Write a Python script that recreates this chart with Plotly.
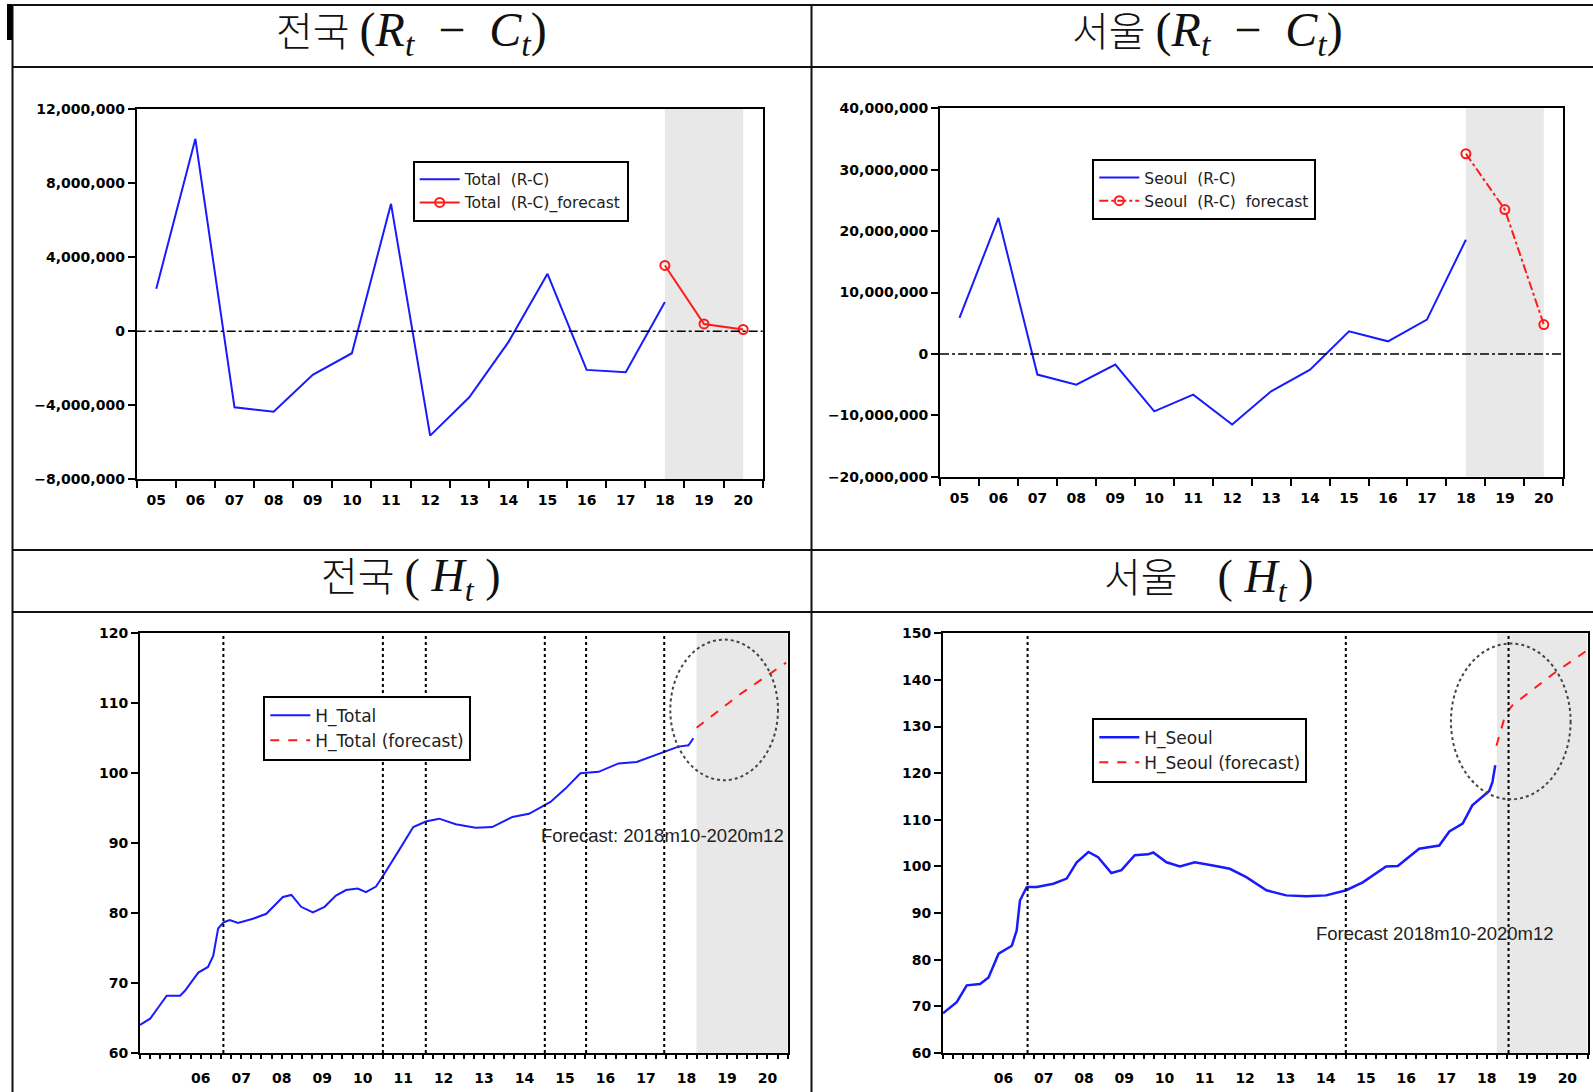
import plotly.graph_objects as go

W, H = 1593, 1092

# ---------------- data ----------------
years = [2005, 2006, 2007, 2008, 2009, 2010, 2011, 2012, 2013, 2014, 2015, 2016, 2017, 2018, 2019, 2020]
year_labels = ["05", "06", "07", "08", "09", "10", "11", "12", "13", "14", "15", "16", "17", "18", "19", "20"]

total_rc_years = [2005, 2006, 2007, 2008, 2009, 2010, 2011, 2012, 2013, 2014, 2015, 2016, 2017, 2018]
total_rc = [2290000, 10390000, -4110000, -4350000, -2360000, -1190000, 6880000, -5640000,
            -3570000, -590000, 3100000, -2090000, -2220000, 1570000]
total_rc_fc_years = [2018, 2019, 2020]
total_rc_fc = [3550000, 390000, 90000]

seoul_rc = [5860000, 22150000, -3370000, -5000000, -1740000, -9350000, -6630000, -11500000,
            -6090000, -2560000, 3680000, 2050000, 5590000, 18600000]
seoul_rc_fc = [32600000, 23500000, 4770000]

# H_Total (monthly index, read points: decimal year, value)
h_total_t = [2005.00, 2005.25, 2005.45, 2005.66, 2005.99, 2006.11, 2006.44, 2006.68, 2006.81, 2006.93,
             2007.07, 2007.22, 2007.42, 2007.79, 2008.12, 2008.53, 2008.74, 2008.98, 2009.27, 2009.56,
             2009.84, 2010.09, 2010.38, 2010.58, 2010.83, 2010.99, 2011.40, 2011.75, 2012.06, 2012.39,
             2012.80, 2013.29, 2013.70, 2014.20, 2014.61, 2015.14, 2015.51, 2015.88, 2016.33, 2016.82,
             2017.27, 2017.81, 2018.30, 2018.55, 2018.67]
h_total_v = [64.0, 64.9, 66.5, 68.2, 68.2, 68.9, 71.5, 72.3, 73.9, 77.8,
             78.7, 79.0, 78.6, 79.2, 79.9, 82.3, 82.6, 80.9, 80.1, 80.9,
             82.5, 83.3, 83.5, 83.0, 83.8, 85.2, 89.0, 92.3, 93.1, 93.5,
             92.7, 92.2, 92.3, 93.75, 94.2, 95.9, 97.8, 100.0, 100.2, 101.4,
             101.6, 102.7, 103.8, 104.0, 105.0]
h_total_fc_t = [2018.75, 2019.80, 2020.96]
h_total_fc_v = [106.5, 111.2, 115.8]

h_seoul_t = [2005.00, 2005.34, 2005.59, 2005.92, 2006.13, 2006.38, 2006.71, 2006.83, 2006.91, 2007.08,
             2007.33, 2007.74, 2008.07, 2008.32, 2008.61, 2008.85, 2009.18, 2009.43, 2009.76, 2010.09,
             2010.22, 2010.55, 2010.88, 2011.25, 2011.70, 2012.12, 2012.53, 2013.03, 2013.52, 2014.02,
             2014.51, 2015.01, 2015.42, 2016.00, 2016.29, 2016.82, 2017.32, 2017.57, 2017.90, 2018.14,
             2018.56, 2018.64, 2018.71]
h_seoul_v = [68.5, 70.9, 74.5, 74.8, 76.2, 81.3, 83.0, 86.3, 92.7, 95.6,
             95.6, 96.3, 97.4, 100.9, 103.1, 102.0, 98.6, 99.2, 102.4, 102.6,
             103.0, 100.9, 100.0, 100.9, 100.2, 99.5, 97.7, 94.9, 93.8, 93.6,
             93.8, 94.9, 96.6, 100.0, 100.1, 103.8, 104.5, 107.5, 109.2, 113.1,
             116.2, 118.1, 121.7]
h_seoul_fc_t = [2018.74, 2018.97, 2019.14, 2020.21, 2020.95]
h_seoul_fc_v = [125.9, 132.8, 134.6, 141.7, 146.1]

events_total = [2007.06, 2011.00, 2012.06, 2015.00, 2016.02, 2017.95]
events_seoul = [2007.10, 2015.00, 2019.04]
forecast_start = 2018.75

# ---------------- helpers ----------------
def px(x):
    return x / W

def py(y):
    return 1 - y / H

BLUE = "#1a1aff"
RED = "#ff1a1a"
TICKFONT = dict(family="DejaVu Sans", size=14, color="black", weight="bold")

fig = go.Figure()

# Top-left
fig.add_trace(go.Scatter(x=total_rc_years, y=total_rc, mode="lines", name="Total  (R-C)",
                         line=dict(color=BLUE, width=2), xaxis="x", yaxis="y", legend="legend"))
fig.add_trace(go.Scatter(x=total_rc_fc_years, y=total_rc_fc, mode="lines+markers",
                         name="Total  (R-C)_forecast",
                         line=dict(color=RED, width=2),
                         marker=dict(symbol="circle-open", size=9, color=RED, line=dict(width=2)),
                         xaxis="x", yaxis="y", legend="legend"))
# Top-right
fig.add_trace(go.Scatter(x=total_rc_years, y=seoul_rc, mode="lines", name="Seoul  (R-C)",
                         line=dict(color=BLUE, width=2), xaxis="x2", yaxis="y2", legend="legend2"))
fig.add_trace(go.Scatter(x=total_rc_fc_years, y=seoul_rc_fc, mode="lines+markers",
                         name="Seoul  (R-C)  forecast",
                         line=dict(color=RED, width=2, dash="dashdot"),
                         marker=dict(symbol="circle-open", size=9, color=RED, line=dict(width=2)),
                         xaxis="x2", yaxis="y2", legend="legend2"))
# Bottom-left
fig.add_trace(go.Scatter(x=h_total_t, y=h_total_v, mode="lines", name="H_Total",
                         line=dict(color=BLUE, width=2), xaxis="x3", yaxis="y3", legend="legend3"))
fig.add_trace(go.Scatter(x=h_total_fc_t, y=h_total_fc_v, mode="lines", name="H_Total (forecast)",
                         line=dict(color=RED, width=2, dash="dash"), xaxis="x3", yaxis="y3",
                         legend="legend3"))
# Bottom-right
fig.add_trace(go.Scatter(x=h_seoul_t, y=h_seoul_v, mode="lines", name="H_Seoul",
                         line=dict(color=BLUE, width=2.5), xaxis="x4", yaxis="y4", legend="legend4"))
fig.add_trace(go.Scatter(x=h_seoul_fc_t, y=h_seoul_fc_v, mode="lines", name="H_Seoul (forecast)",
                         line=dict(color=RED, width=2, dash="dash"), xaxis="x4", yaxis="y4",
                         legend="legend4"))

frame = dict(showline=True, linecolor="black", linewidth=2, mirror=True, showgrid=False,
             zeroline=False, tickfont=TICKFONT, fixedrange=True)

def top_xaxis(x0, x1, anchor):
    return dict(domain=[px(x0), px(x1)], anchor=anchor, range=[years[0] - 0.5, years[-1] + 0.5],
                tickmode="array", tickvals=years, ticktext=year_labels, ticks="",
                ticklabelstandoff=7,
                minor=dict(tickmode="array", tickvals=[y - 0.5 for y in years] + [years[-1] + 0.5],
                           ticks="outside", ticklen=7, tickwidth=2, tickcolor="black"),
                **frame)

def month_xaxis(x0, x1, anchor):
    centers = [y + 0.5 for y in years[1:]]
    quarters = [y + q / 4 for y in range(2005, 2021) for q in range(4)] + [2021]
    return dict(domain=[px(x0), px(x1)], anchor=anchor, range=[2005, 2021],
                tickmode="array", tickvals=centers, ticktext=year_labels[1:], ticks="",
                ticklabelstandoff=11,
                minor=dict(tickmode="array", tickvals=quarters, ticks="outside", ticklen=4,
                           tickwidth=1.5, tickcolor="black"),
                **frame)

def boundary_axis(over, anchor, x0, x1):
    return dict(overlaying=over, anchor=anchor, domain=[px(x0), px(x1)], range=[2005, 2021],
                tickmode="array", tickvals=list(range(2005, 2022)), ticks="outside", ticklen=9,
                tickwidth=2, tickcolor="black", showticklabels=False, showline=False,
                showgrid=False, zeroline=False, side="bottom", fixedrange=True)

def yaxis(y0, y1, anchor, rng, dtick, fmt):
    return dict(domain=[py(y1), py(y0)], anchor=anchor, range=rng, dtick=dtick, tick0=rng[0],
                tickformat=fmt, ticks="outside", ticklen=7, tickwidth=2, tickcolor="black",
                **frame)

TL = (136.7, 762.7, 109, 479.3)
TR = (940, 1563.3, 108.3, 476.7)
BL = (140, 787.7, 633.3, 1053)
BR = (943, 1587.5, 633.3, 1053)

fig.update_layout(
    xaxis=top_xaxis(TL[0], TL[1], "y"),
    yaxis=yaxis(TL[2], TL[3], "x", [-8e6, 12e6], 4e6, ","),
    xaxis2=top_xaxis(TR[0], TR[1], "y2"),
    yaxis2=yaxis(TR[2], TR[3], "x2", [-2e7, 4e7], 1e7, ","),
    xaxis3=month_xaxis(BL[0], BL[1], "y3"),
    yaxis3=yaxis(BL[2], BL[3], "x3", [60, 120], 10, "d"),
    xaxis4=month_xaxis(BR[0], BR[1], "y4"),
    yaxis4=yaxis(BR[2], BR[3], "x4", [60, 150], 10, "d"),
    xaxis5=boundary_axis("x3", "y3", BL[0], BL[1]),
    xaxis6=boundary_axis("x4", "y4", BR[0], BR[1]),
)

def legend_at(x, y, size):
    return dict(x=px(x), y=py(y), xanchor="left", yanchor="top", bgcolor="white",
                bordercolor="black", borderwidth=2,
                font=dict(family="DejaVu Sans", size=size, color="#222"), itemwidth=40,
                tracegroupgap=0, traceorder="normal")

fig.update_layout(
    legend=legend_at(412.7, 160.7, 15.5),
    legend2=legend_at(1092.3, 159, 15.5),
    legend3=legend_at(263.3, 695.7, 17),
    legend4=legend_at(1092.3, 717.7, 17),
)

shapes = []
# forecast shading
shapes.append(dict(type="rect", xref="x", yref="y domain", x0=2018, x1=2020, y0=0, y1=1,
                   fillcolor="#e8e8e8", line=dict(width=0), layer="below"))
shapes.append(dict(type="rect", xref="x2", yref="y2 domain", x0=2018, x1=2020, y0=0, y1=1,
                   fillcolor="#e8e8e8", line=dict(width=0), layer="below"))
shapes.append(dict(type="rect", xref="x3", yref="y3 domain", x0=forecast_start, x1=2021, y0=0, y1=1,
                   fillcolor="#e8e8e8", line=dict(width=0), layer="below"))
shapes.append(dict(type="rect", xref="x4", yref="y4 domain", x0=forecast_start, x1=2021, y0=0, y1=1,
                   fillcolor="#e8e8e8", line=dict(width=0), layer="below"))
# zero lines
for xr, yr in (("x domain", "y"), ("x2 domain", "y2")):
    shapes.append(dict(type="line", xref=xr, yref=yr, x0=0, x1=1, y0=0, y1=0,
                       line=dict(color="black", width=1.5, dash="dashdot")))
# event lines
for e in events_total:
    shapes.append(dict(type="line", xref="x3", yref="y3 domain", x0=e, x1=e, y0=0, y1=1,
                       line=dict(color="black", width=2, dash="dot")))
for e in events_seoul:
    shapes.append(dict(type="line", xref="x4", yref="y4 domain", x0=e, x1=e, y0=0, y1=1,
                       line=dict(color="black", width=2, dash="dot")))
# highlight ellipses
shapes.append(dict(type="circle", xref="x3", yref="y3", x0=2018.1, x1=2020.76, y0=99.0, y1=119.1,
                   line=dict(color="#444", width=2, dash="dot")))
shapes.append(dict(type="circle", xref="x4", yref="y4", x0=2017.61, x1=2020.58, y0=114.4, y1=147.8,
                   line=dict(color="#444", width=2, dash="dot")))

# table grid
LC = "#111"
for yy in (5, 67, 550, 612):
    shapes.append(dict(type="line", xref="paper", yref="paper", x0=px(12.5), x1=1, y0=py(yy), y1=py(yy),
                       line=dict(color=LC, width=2)))
for xx in (12.5, 811.5):
    shapes.append(dict(type="line", xref="paper", yref="paper", x0=px(xx), x1=px(xx), y0=py(5), y1=0,
                       line=dict(color=LC, width=2)))
shapes.append(dict(type="rect", xref="paper", yref="paper", x0=px(7), x1=px(12.5), y0=py(40), y1=py(4),
                   fillcolor="black", line=dict(width=0)))
fig.update_layout(shapes=shapes)

TFONT = dict(family="Liberation Serif, Noto Sans CJK KR", size=40, color="#111", weight=300)
NB = "&nbsp;"
rc = ("<span style='font-size:48px'>(<i>R</i><sub><i>t</i></sub>" + NB * 2 + "−" + NB * 2 +
      "<i>C</i><sub><i>t</i></sub>)</span>")
ht = "<span style='font-size:46px'>(" + NB + "<i>H</i><sub><i>t</i></sub>" + NB + ")</span>"
annotations = [
    dict(text="전국 " + rc, x=px(412), y=py(33)),
    dict(text="서울 " + rc, x=px(1207), y=py(33)),
    dict(text="전국 " + ht, x=px(411), y=py(579)),
    dict(text="서울" + NB * 4 + ht, x=px(1208), y=py(580)),
]
for a in annotations:
    a.update(xref="paper", yref="paper", showarrow=False, font=TFONT, xanchor="center", yanchor="middle")
annotations.append(dict(text="Forecast: 2018m10-2020m12", xref="x3", yref="y3", x=2014.85, y=91.1,
                        xanchor="left", yanchor="middle", showarrow=False,
                        font=dict(family="Liberation Sans", size=18.5, color="#222")))
annotations.append(dict(text="Forecast 2018m10-2020m12", xref="x4", yref="y4", x=2014.22, y=85.6,
                        xanchor="left", yanchor="middle", showarrow=False,
                        font=dict(family="Liberation Sans", size=18.5, color="#222")))
fig.update_layout(annotations=annotations)

fig.update_layout(width=W, height=H, margin=dict(l=0, r=0, t=0, b=0, pad=0, autoexpand=False),
                  paper_bgcolor="white", plot_bgcolor="white", showlegend=True)

fig.write_html("out.html", config={"displayModeBar": False},
               post_script="document.body.style.margin='0px';document.body.style.overflow='hidden';")
